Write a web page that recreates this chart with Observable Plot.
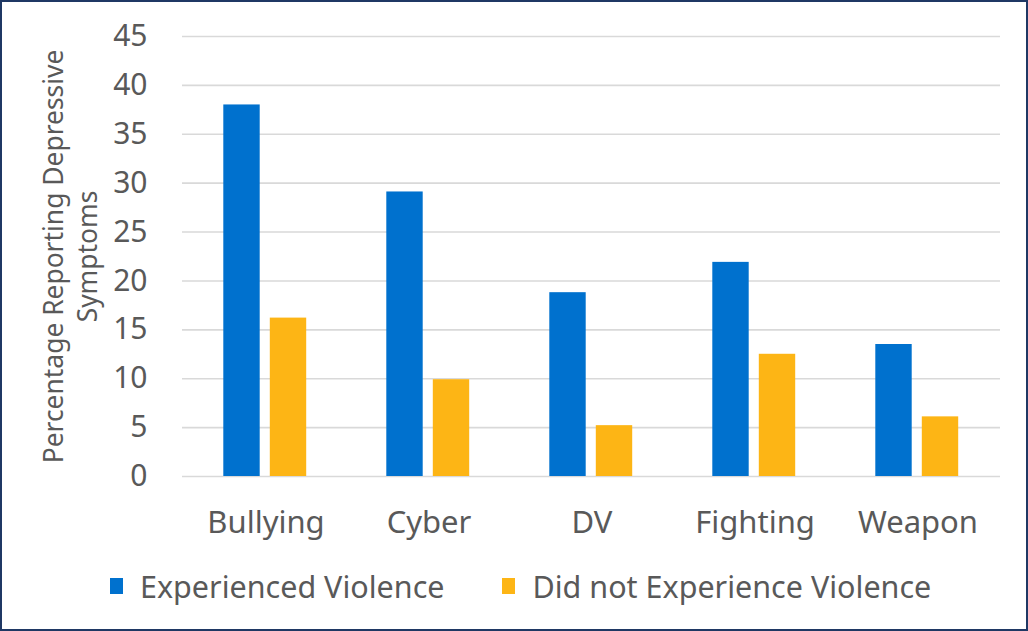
<!DOCTYPE html>
<html>
<head>
<meta charset="utf-8">
<script src="https://cdn.jsdelivr.net/npm/d3@7"></script>
<script src="https://cdn.jsdelivr.net/npm/@observablehq/plot@0.6"></script>
<style>
  html, body { margin: 0; padding: 0; background: #fff; }
  #frame {
    width: 1028px; height: 631px; box-sizing: border-box;
    border: 2px solid #1f3864; background: #fff; position: relative; overflow: hidden;
    font-family: "Noto Sans", sans-serif;
  }
  #legend {
    position: absolute; top: 564px; left: 108px;
    display: flex; gap: 58px;
    font-size: 30.5px; color: #595959; font-family: "Noto Sans", sans-serif; line-height: 40px;
  }
  #legend .item { display: flex; align-items: center; gap: 17px; }
  #legend .sw { width: 13px; height: 16px; display: inline-block; }
</style>
</head>
<body>
<div id="frame">
  <div id="chart"></div>
  <div id="legend"></div>
</div>
<script>
const categories = ["Bullying", "Cyber", "DV", "Fighting", "Weapon"];
const seriesNames = ["Experienced Violence", "Did not Experience Violence"];
const experienced = [38.0, 29.1, 18.8, 21.9, 13.5];
const notExperienced = [16.2, 9.9, 5.2, 12.5, 6.1];
const yTicks = [0, 5, 10, 15, 20, 25, 30, 35, 40, 45];
const colors = ["#0071CE", "#FDB515"];
const yLabel = "Percentage Reporting Depressive\nSymptoms";

const rows = (vals, s) => categories.map((c, i) => ({category: c, series: s, value: vals[i]}));
const expRows = rows(experienced, seriesNames[0]);
const notRows = rows(notExperienced, seriesNames[1]);

const W = 1024, H = 550, mL = 180, mR = 26, mT = 34, mB = 76;
const band = (W - mL - mR) / categories.length;
const barW = 37;
const inset = (band - barW) / 2;

const chart = Plot.plot({
  width: W, height: H,
  marginLeft: mL, marginRight: mR, marginTop: mT, marginBottom: mB,
  style: {fontFamily: "'Noto Sans', sans-serif", color: "#595959", background: "transparent"},
  x: {domain: categories, padding: 0, label: null},
  y: {domain: [0, 45], label: null},
  color: {domain: seriesNames, range: colors},
  marks: [
    Plot.gridY(yTicks, {stroke: "#d9d9d9", strokeOpacity: 1, strokeWidth: 1.6}),
    Plot.axisY(yTicks, {tickSize: 0, tickPadding: 35, fontSize: 30, fill: "#595959", label: null}),
    Plot.axisX({tickSize: 0, tickPadding: 34, fontSize: 31, fill: "#595959", label: null}),
    Plot.barY(expRows, {x: "category", y: "value", fill: "series", insetLeft: inset, insetRight: inset, dx: -24}),
    Plot.barY(notRows, {x: "category", y: "value", fill: "series", insetLeft: inset, insetRight: inset, dx: 22.5}),
    Plot.text([yLabel], {text: d => d, frameAnchor: "left", dx: -113, rotate: -90, fontSize: 26.4, lineHeight: 1.29, fill: "#595959", textAnchor: "middle", lineAnchor: "middle"})
  ]
});
document.getElementById("chart").appendChild(chart);

const legend = document.getElementById("legend");
seriesNames.forEach((s, i) => {
  const item = document.createElement("div");
  item.className = "item";
  const sw = document.createElement("span");
  sw.className = "sw";
  sw.style.background = colors[i];
  const t = document.createElement("span");
  t.textContent = s;
  item.appendChild(sw); item.appendChild(t);
  legend.appendChild(item);
});
</script>
</body>
</html>
